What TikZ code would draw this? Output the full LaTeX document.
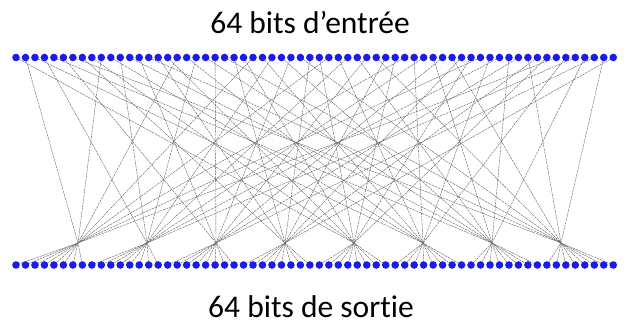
\documentclass[tikz,border=0pt]{standalone}
\usepackage{fontspec}
\setmainfont{Carlito}[Ligatures={NoCommon}]
\usetikzlibrary{backgrounds}
\definecolor{dotblue}{RGB}{28,28,232}
\tikzset{
  bitdot/.style={circle,inner sep=0pt,minimum size=7.6pt,fill=dotblue,draw=none},
  wire/.style={draw=black!62,line width=0.4pt,dash pattern=on 2.5pt off 0.8pt},
  caption/.style={font=\fontsize{31.5}{33}\selectfont,inner sep=0pt,anchor=base}
}
\begin{document}
\begin{tikzpicture}[x=1pt,y=-1pt]
\useasboundingbox (0,0) rectangle (625,331);
\node[caption] (titlein) at (310,34) {64 bits d’entrée};
\node[caption] (titleout) at (311,318) {64 bits de sortie};
\foreach \n in {1,...,64}{
  \node[bitdot] (t\n) at ({16+9.48*(\n-1)},57.5) {};
  \node[bitdot] (b\n) at ({16+9.48*(\n-1)},265) {};
}
\foreach \k in {0,...,7}{
  \coordinate (c\k) at ({78+69*\k},243);
}
\begin{pgfonlayer}{background}
\foreach \v [count=\j] in {58,50,42,34,26,18,10,2,60,52,44,36,28,20,12,4,62,54,46,38,30,22,14,6,64,56,48,40,32,24,16,8,57,49,41,33,25,17,9,1,59,51,43,35,27,19,11,3,61,53,45,37,29,21,13,5,63,55,47,39,31,23,15,7}{
  \pgfmathtruncatemacro\k{int((\j-1)/8)}
  \draw[wire] (t\v.center) -- (c\k) -- (b\j.center);
}
\end{pgfonlayer}
\end{tikzpicture}
\end{document}
